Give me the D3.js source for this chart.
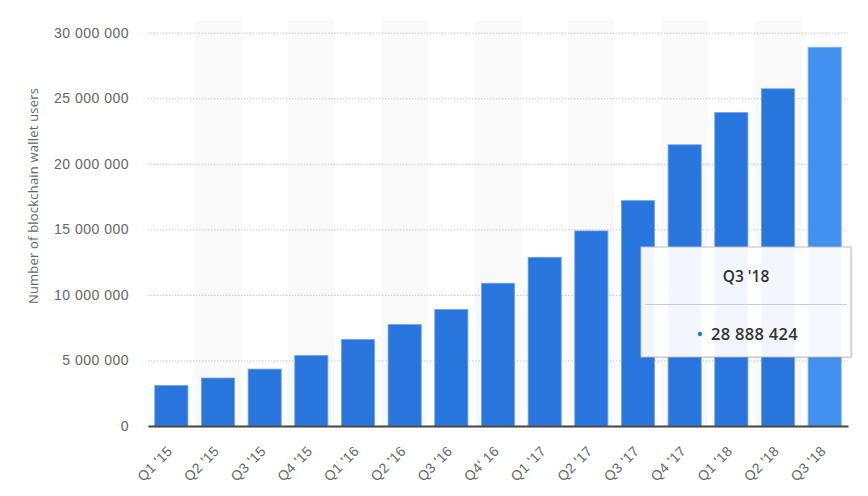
<!DOCTYPE html>
<html><head><meta charset="utf-8">
<script src="https://cdn.jsdelivr.net/npm/d3@7"></script>
<style>
body{margin:0;background:#fff;}
svg{display:block;font-family:"Open Sans","Noto Sans",sans-serif;}
</style></head>
<body><svg id="c" width="868" height="496"></svg>
<script>
const categories = ["Q1 '15","Q2 '15","Q3 '15","Q4 '15","Q1 '16","Q2 '16","Q3 '16","Q4' 16","Q1 '17","Q2 '17","Q3 '17","Q4 '17","Q1 '18","Q2 '18","Q3 '18"];
const values = [3090000,3660000,4340000,5380000,6600000,7740000,8890000,10890000,12870000,14880000,17190000,21450000,23910000,25720000,28888424];
const yTicks = [0,5000000,10000000,15000000,20000000,25000000,30000000];
const yTitle = "Number of blockchain wallet users";
const highlight = "Q3 '18";

const svg = d3.select("#c");
const m = {l:148, r:848, t:32.7, b:426};
const fmt = v => d3.format(",")(v).replace(/,/g," ");

const x = d3.scaleBand().domain(categories).range([m.l, m.r]).paddingInner(0.29).paddingOuter(0.145);
const xb = d3.scaleBand().domain(categories).range([m.l, m.r]);
const y = d3.scaleLinear().domain([0,30000000]).range([m.b, m.t]);

// alternating bands
svg.append("g").selectAll("rect").data(categories.filter((d,i)=>i%2===1)).join("rect")
  .attr("x", d=>xb(d)).attr("width", xb.bandwidth()).attr("y", m.t-12).attr("height", m.b-m.t+12)
  .attr("fill","#f9f9f9");

// gridlines
const yAxis = d3.axisLeft(y).tickValues(yTicks).tickFormat(fmt).tickSize(-(m.r-m.l)).tickPadding(19);
const gy = svg.append("g").attr("transform",`translate(${m.l},0)`).call(yAxis);
gy.select(".domain").remove();
gy.selectAll(".tick line").attr("stroke","#c8c8c8").attr("stroke-dasharray","1.5,1.5").attr("stroke-width",1);
gy.selectAll(".tick text").attr("fill","#666").attr("font-size","14px").attr("letter-spacing","0.5px").attr("x",-19);

// bars
svg.append("g").selectAll("rect").data(categories).join("rect")
  .attr("x", d=>x(d)).attr("width", x.bandwidth())
  .attr("y", (d,i)=>y(values[i])).attr("height",(d,i)=>y(0)-y(values[i]))
  .attr("fill", d=> d===highlight ? "#418fef" : "#2876dd")
  .attr("stroke", d=> d===highlight ? "#7fb3f5" : "#6fa4ea").attr("stroke-width",0.8);

// x axis
const xAxis = d3.axisBottom(xb).tickSize(0).tickPadding(0);
const gx = svg.append("g").attr("transform",`translate(0,${m.b})`).call(xAxis);
gx.select(".domain").attr("stroke","#444").attr("stroke-width",2);
gx.selectAll(".tick text").attr("fill","#666").attr("font-size","14px").attr("letter-spacing","0.3px")
  .attr("text-anchor","end").attr("dy",0)
  .attr("transform","translate(2,26) rotate(-45)");

// y title
svg.append("text").attr("transform","translate(38,196) rotate(-90)")
  .attr("text-anchor","middle").attr("fill","#666").attr("font-size","13px").attr("letter-spacing","0.2px").text(yTitle);

// tooltip
const hi = categories.indexOf(highlight);
const tt = svg.append("g").attr("transform","translate(641,247)");
tt.append("rect").attr("x",1.5).attr("y",1.5).attr("width",210).attr("height",110).attr("fill","rgba(0,0,0,0.08)");
tt.append("rect").attr("width",210).attr("height",110).attr("fill","rgba(255,255,255,0.95)").attr("stroke","#bdbdbd").attr("stroke-width",1);
tt.append("text").attr("x",105).attr("y",35).attr("text-anchor","middle").attr("font-size","15.5px").attr("font-weight","600").attr("fill","#333").text(categories[hi]);
tt.append("line").attr("x1",4).attr("x2",206).attr("y1",57.5).attr("y2",57.5).attr("stroke","#ccc");
tt.append("circle").attr("cx",59).attr("cy",87).attr("r",2.2).attr("fill","#2876dd");
tt.append("text").attr("x",70).attr("y",93).attr("font-size","16.5px").attr("font-weight","600").attr("letter-spacing","0.3px").attr("fill","#333").text(fmt(values[hi]));
</script></body></html>
